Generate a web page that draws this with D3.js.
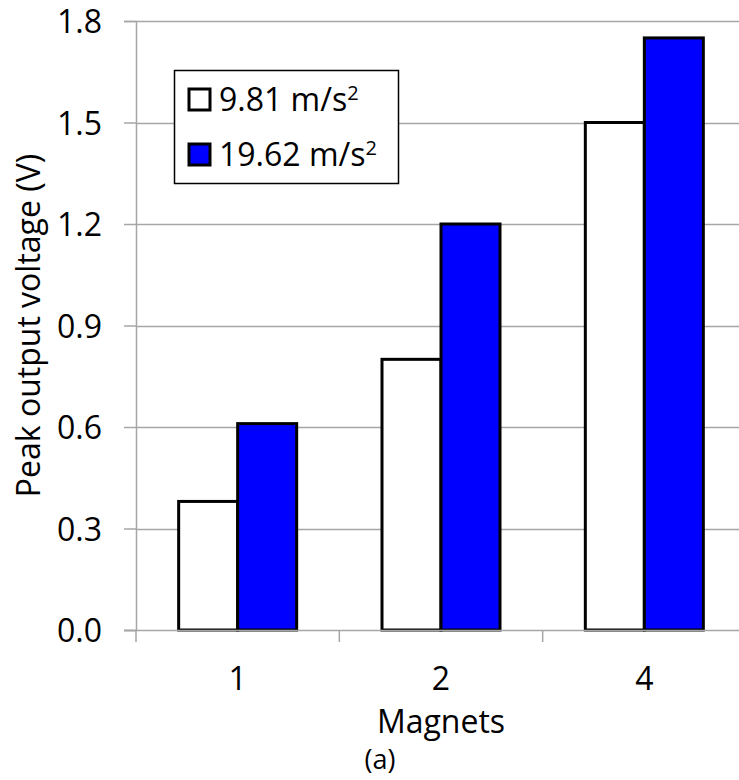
<!DOCTYPE html>
<html>
<head>
<meta charset="utf-8">
<script src="https://cdn.jsdelivr.net/npm/d3@7"></script>
<style>
  body { margin: 0; background: #fff; }
  svg { display: block; }
  text { font-family: "Open Sans", "Lato", sans-serif; fill: #000; }
</style>
</head>
<body>
<svg id="chart" width="739" height="780"></svg>
<script>
// data
var magnets = ["1", "2", "4"];
var accel1 = [0.38, 0.80, 1.50];   // 9.81 m/s2
var accel2 = [0.61, 1.20, 1.75];   // 19.62 m/s2
var series = ["9.81", "19.62"];
var yTicks = [0, 0.3, 0.6, 0.9, 1.2, 1.5, 1.8];

var fs = 32;

var svg = d3.select("#chart");

var plotL = 136, plotR = 746, plotT = 21, plotB = 630;

var x = d3.scaleBand()
    .domain(magnets)
    .range([plotL, plotR]);

var xInner = d3.scaleBand()
    .domain(series)
    .range([0, 118]);

var y = d3.scaleLinear()
    .domain([0, 1.8])
    .range([plotB, plotT]);

// gridlines
svg.append("g")
    .attr("class", "grid")
    .selectAll("line").data(yTicks.slice(1))
    .enter().append("line")
    .attr("x1", plotL).attr("x2", plotR)
    .attr("y1", function (d) { return Math.round(y(d)) + 0.5; })
    .attr("y2", function (d) { return Math.round(y(d)) + 0.5; })
    .style("stroke", "#a6a6a6")
    .style("stroke-width", 1.5);

// y axis
var yAxis = svg.append("g")
    .attr("transform", "translate(" + plotL + ",0)")
    .call(d3.axisLeft(y).tickValues(yTicks).tickSize(12).tickPadding(22)
        .tickFormat(d3.format(".1f")));
yAxis.select(".domain").style("stroke", "#a6a6a6").style("stroke-width", 1.5);
yAxis.selectAll(".tick line").style("stroke", "#a6a6a6").style("stroke-width", 1.5);
yAxis.selectAll(".tick text")
    .style("font-size", fs + "px")
    .style("font-family", "'Open Sans', sans-serif")
    .attr("dy", "0.36em");

// bars
var group = svg.append("g").selectAll("g").data(magnets)
    .enter().append("g")
    .attr("transform", function (d) {
        return "translate(" + (x(d) + x.bandwidth() / 2 - 59) + ",0)";
    });

group.append("rect")
    .attr("x", xInner("9.81"))
    .attr("width", xInner.bandwidth())
    .attr("y", function (d, i) { return y(accel1[i]); })
    .attr("height", function (d, i) { return y(0) - y(accel1[i]); })
    .style("fill", "#fff")
    .style("stroke", "#000")
    .style("stroke-width", 3);

group.append("rect")
    .attr("x", xInner("19.62"))
    .attr("width", xInner.bandwidth())
    .attr("y", function (d, i) { return y(accel2[i]); })
    .attr("height", function (d, i) { return y(0) - y(accel2[i]); })
    .style("fill", "#0000ff")
    .style("stroke", "#000")
    .style("stroke-width", 3);

// x axis
var xAxis = svg.append("g")
    .attr("transform", "translate(0," + plotB + ")");
xAxis.append("line")
    .attr("x1", plotL - 12).attr("x2", plotR)
    .attr("y1", 0.5).attr("y2", 0.5)
    .style("stroke", "#a6a6a6").style("stroke-width", 1.5);
xAxis.selectAll("line.tk").data(magnets)
    .enter().append("line")
    .attr("class", "tk")
    .attr("x1", function (d) { return x(d); })
    .attr("x2", function (d) { return x(d); })
    .attr("y1", 0).attr("y2", 12)
    .style("stroke", "#a6a6a6").style("stroke-width", 1.5);
xAxis.selectAll("text").data(magnets)
    .enter().append("text")
    .attr("x", function (d) { return x(d) + x.bandwidth() / 2; })
    .attr("y", 60)
    .attr("text-anchor", "middle")
    .style("font-size", fs + "px")
    .text(function (d) { return d; });

// axis titles
svg.append("text")
    .attr("x", 441).attr("y", 733)
    .attr("text-anchor", "middle")
    .style("font-size", fs + "px")
    .text("Magnets");

svg.append("text")
    .attr("x", 380).attr("y", 769)
    .attr("text-anchor", "middle")
    .style("font-size", "27px")
    .text("(a)");

svg.append("text")
    .attr("transform", "translate(40," + ((plotT + plotB) / 2) + ") rotate(-90)")
    .attr("text-anchor", "middle")
    .style("font-size", fs + "px")
    .text("Peak output voltage (V)");

// legend
var legend = svg.append("g");
legend.append("rect")
    .attr("x", 174.5).attr("y", 70.5)
    .attr("width", 224).attr("height", 113)
    .style("fill", "#fff").style("stroke", "#000").style("stroke-width", 1.5);

var items = legend.selectAll("g.item").data(series)
    .enter().append("g")
    .attr("class", "item")
    .attr("transform", function (d, i) { return "translate(189," + (89 + i * 55) + ")"; });
items.append("rect")
    .attr("width", 21).attr("height", 21)
    .style("fill", function (d, i) { return i ? "#0000ff" : "#fff"; })
    .style("stroke", "#000").style("stroke-width", 3);
var lt = items.append("text")
    .attr("x", 30).attr("y", 22)
    .style("font-size", fs + "px");
lt.append("tspan").text(function (d) { return d + " m/s"; });
lt.append("tspan").attr("dy", -11).style("font-size", "20px").text("2");
</script>
</body>
</html>
